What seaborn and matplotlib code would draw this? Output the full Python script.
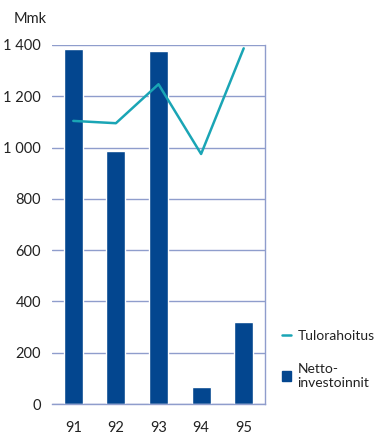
import matplotlib
matplotlib.use("Agg")
import matplotlib.pyplot as plt
import seaborn as sns
import pandas as pd
from matplotlib.lines import Line2D
from matplotlib.patches import Patch

# data
years = ['91', '92', '93', '94', '95']
netto = [1385, 987, 1377, 67, 321]       # Nettoinvestoinnit (bars)
tulo = [1104, 1095, 1247, 975, 1387]     # Tulorahoitus (line)
yticks = [0, 200, 400, 600, 800, 1000, 1200, 1400]
ylabels = ['0', '200', '400', '600', '800', '1 000', '1 200', '1 400']

bar_col = '#03468f'
line_col = '#1aa5b5'
grid_col = '#8f9dcc'
txt_col = '#222222'

sns.set_style('white')
plt.rcParams['font.family'] = ['Lato', 'DejaVu Sans']

df = pd.DataFrame({'vuosi': years, 'netto': netto, 'tulo': tulo})

fig = plt.figure(figsize=(3.75, 4.34), dpi=100)
ax = fig.add_axes([52 / 375, 30 / 434, 213 / 375, 359 / 434])

sns.barplot(data=df, x='vuosi', y='netto', color=bar_col, width=0.45,
            saturation=1, ax=ax, zorder=2)
sns.lineplot(data=df, x='vuosi', y='tulo', color=line_col, linewidth=1.8,
             ax=ax, zorder=3)

ax.set_xlim(-0.5, 4.5)
ax.set_ylim(0, 1400)
ax.set_yticks(yticks)
ax.set_yticklabels(ylabels)
ax.set_axisbelow(True)
ax.yaxis.grid(True, color=grid_col, linewidth=1)
ax.xaxis.grid(False)

for s in ['left', 'top']:
    ax.spines[s].set_visible(False)
for s in ['right', 'bottom']:
    ax.spines[s].set_visible(True)
    ax.spines[s].set_color(grid_col)
    ax.spines[s].set_linewidth(1)

ax.tick_params(axis='y', length=0, pad=8, labelsize=10.5, labelcolor=txt_col)
ax.tick_params(axis='x', which='major', length=0, pad=12, labelsize=10.5,
               labelcolor=txt_col)
ax.set_xticks([0.5, 1.5, 2.5, 3.5], minor=True)
ax.tick_params(axis='x', which='minor', direction='inout', length=10,
               color=grid_col, width=1)
ax.set_xlabel('')
ax.set_ylabel('')

fig.text(14 / 375, 1 - 19 / 434, 'Mmk', fontsize=10.5, color=txt_col,
         va='center', ha='left')

handles = [Line2D([0], [0], color=line_col, linewidth=1.8),
           Patch(facecolor=bar_col, edgecolor=bar_col)]
leg = fig.legend(handles, ['Tulorahoitus', 'Netto-\ninvestoinnit'],
                 loc='upper left', bbox_to_anchor=(282 / 375, 1 - 330 / 434),
                 frameon=False, borderpad=0, borderaxespad=0,
                 handlelength=0.65, handleheight=0.65,
                 handletextpad=0.45, labelspacing=1.5, fontsize=10)
for t in leg.get_texts():
    t.set_color(txt_col)

fig.savefig('out.png', dpi=100)
